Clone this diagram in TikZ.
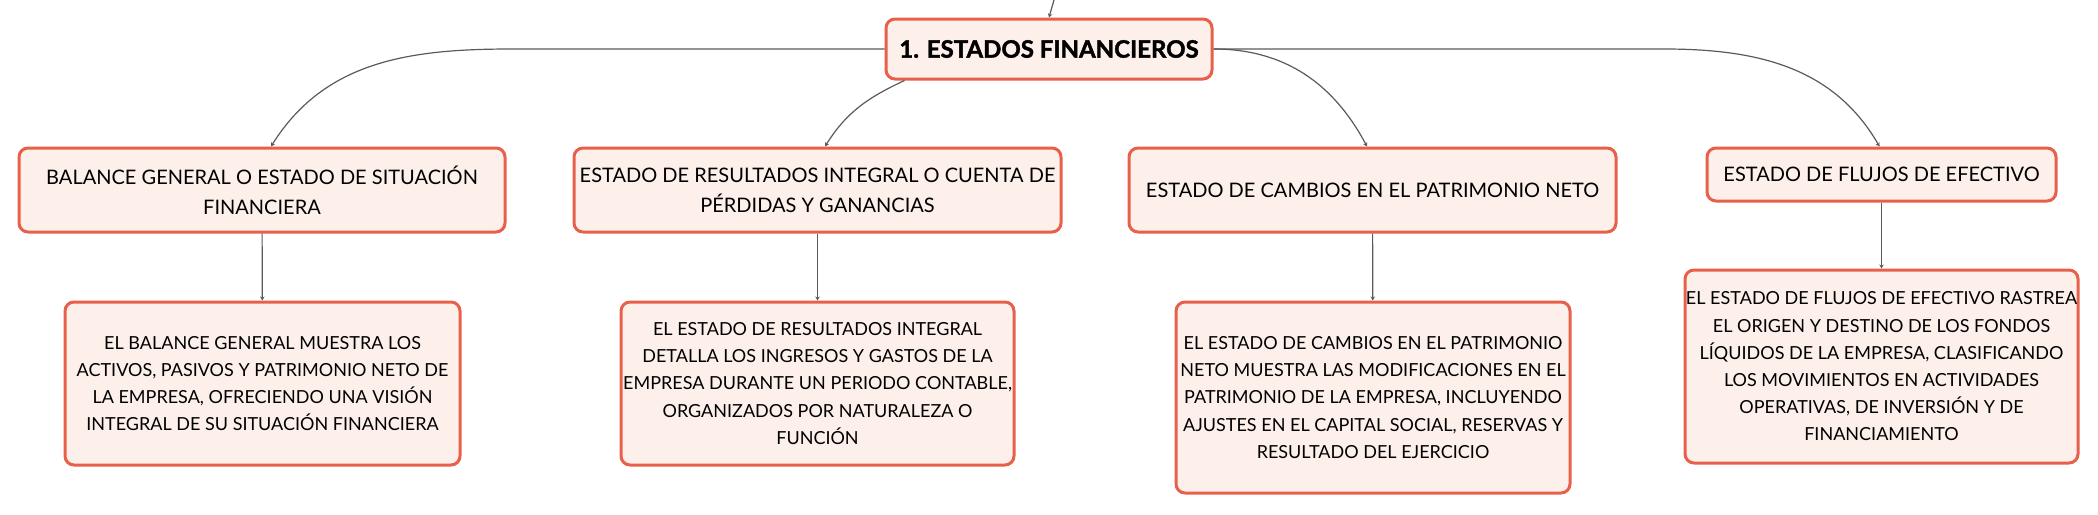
\documentclass[tikz,border=0pt]{standalone}
\usepackage{fontspec}
\setmainfont{Lato}
\newfontfamily\rootfont[BoldFeatures={FakeBold=1.6}]{Lato}
\usetikzlibrary{arrows.meta, positioning}

\definecolor{boxred}{HTML}{E9604A}
\definecolor{boxfill}{HTML}{FDF0EB}
\definecolor{linegray}{HTML}{5A5A5A}

\begin{document}
\begin{tikzpicture}[x=0.5pt,y=0.5pt,>={Stealth[length=2pt,width=2.2pt]},
        box/.style={draw=boxred,line width=1.5pt,fill=boxfill,rounded corners=4.5pt,
          align=center,inner sep=0pt},
        root/.style={box,font=\fontsize{12}{15}\selectfont\rootfont\bfseries},
        title/.style={box,font=\fontsize{10}{15}\selectfont},
        note/.style={box,font=\fontsize{9}{13.6}\selectfont},
        link/.style={draw=linegray,line width=0.6pt,->}]

        \useasboundingbox (0,0) rectangle (2098,-514);

        \node at (1049,-49) [root,minimum width=163pt,minimum height=30pt] (EF) {1. ESTADOS FINANCIEROS};

        \node at (262,-190) [title,minimum width=243pt,minimum height=42pt] (BG)
          {BALANCE GENERAL O ESTADO DE SITUACIÓN\\FINANCIERA};
        \node at (817.5,-190) [title,minimum width=243.5pt,minimum height=42pt] (ER)
          {ESTADO DE RESULTADOS INTEGRAL O CUENTA DE\\PÉRDIDAS Y GANANCIAS};
        \node at (1372.5,-190) [title,minimum width=243.5pt,minimum height=42pt] (CP)
          {ESTADO DE CAMBIOS EN EL PATRIMONIO NETO};
        \node at (1881.5,-174.5) [title,minimum width=174.5pt,minimum height=26.5pt] (FE)
          {ESTADO DE FLUJOS DE EFECTIVO};

        \node at (262.5,-383.5) [note,minimum width=197.5pt,minimum height=81.5pt] (BGtxt)
          {EL BALANCE GENERAL MUESTRA LOS\\ACTIVOS, PASIVOS Y PATRIMONIO NETO DE\\LA EMPRESA, OFRECIENDO UNA VISIÓN\\INTEGRAL DE SU SITUACIÓN FINANCIERA};
        \node at (817.5,-383.5) [note,minimum width=196.5pt,minimum height=81.5pt] (ERtxt)
          {EL ESTADO DE RESULTADOS INTEGRAL\\DETALLA LOS INGRESOS Y GASTOS DE LA\\EMPRESA DURANTE UN PERIODO CONTABLE,\\ORGANIZADOS POR NATURALEZA O\\FUNCIÓN};
        \node at (1373,-397.5) [note,minimum width=197pt,minimum height=95.5pt] (CPtxt)
          {EL ESTADO DE CAMBIOS EN EL PATRIMONIO\\NETO MUESTRA LAS MODIFICACIONES EN EL\\PATRIMONIO DE LA EMPRESA, INCLUYENDO\\AJUSTES EN EL CAPITAL SOCIAL, RESERVAS Y\\RESULTADO DEL EJERCICIO};
        \node at (1881.5,-366.5) [note,minimum width=196.5pt,minimum height=96.5pt] (FEtxt)
          {EL ESTADO DE FLUJOS DE EFECTIVO RASTREA\\EL ORIGEN Y DESTINO DE LOS FONDOS\\LÍQUIDOS DE LA EMPRESA, CLASIFICANDO\\LOS MOVIMIENTOS EN ACTIVIDADES\\OPERATIVAS, DE INVERSIÓN Y DE\\FINANCIAMIENTO};

        % bends of the long branches
        \coordinate (top) at (1054,0);
        \coordinate (BGbend) at (512,-49);
        \coordinate (FEbend) at (1664,-49);

        \draw[link] (top) -- (EF.north);
        \draw[link] (EF.west) -- (BGbend) to[out=180,in=58] ([xshift=4.5pt]BG.north);
        \draw[link] ([xshift=10pt]EF.south west) to[out=205,in=58] ([xshift=3.75pt]ER.north);
        \draw[link] (EF.east) to[out=0,in=118] ([xshift=-2.75pt]CP.north);
        \draw[link] (EF.east) -- (FEbend) to[out=0,in=120] ([xshift=-1pt]FE.north);

        \draw[link] (BG) -- (BGtxt);
        \draw[link] (ER) -- (ERtxt);
        \draw[link] (CP) -- (CPtxt);
        \draw[link] (FE) -- (FEtxt);

      \end{tikzpicture}
\end{document}
